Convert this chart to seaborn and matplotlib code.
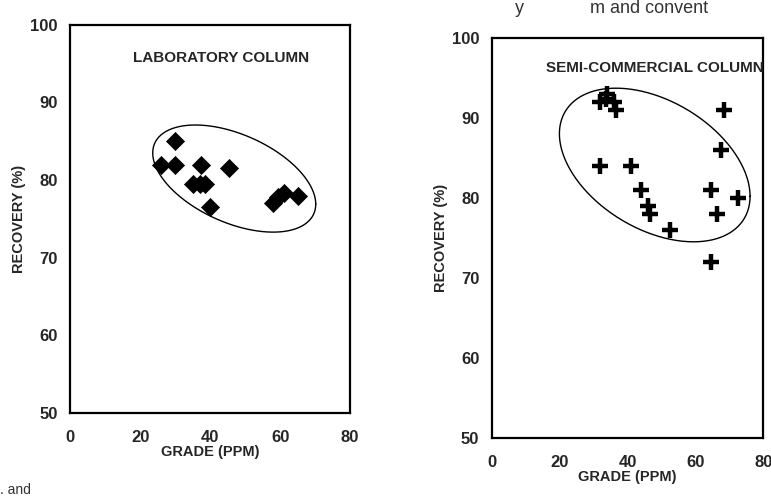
import numpy as np
import pandas as pd
import matplotlib
matplotlib.use("Agg")
import matplotlib.pyplot as plt
import seaborn as sns

# ---- data ----
lab_grade = [26, 30, 30, 35, 37, 37.5, 38.5, 40, 45.5, 58, 59.5, 61, 65]
lab_recovery = [82, 85, 82, 79.5, 79.5, 82, 79.5, 76.5, 81.5, 77, 77.8, 78.3, 78]

semi_grade = [32, 34, 36, 36.5, 33.5, 32, 41, 44, 46, 46.5, 52.5, 68.5, 67.5, 64.5, 72.5, 66.5, 64.5]
semi_recovery = [92, 93, 92, 91, 92.3, 84, 84, 81, 79, 78, 76, 91, 86, 81, 80, 78, 72]

x_ticks = [0, 20, 40, 60, 80]
y_ticks = [50, 60, 70, 80, 90, 100]

panel_titles = ["LABORATORY COLUMN", "SEMI-COMMERCIAL COLUMN"]
x_label = "GRADE (PPM)"
y_label = "RECOVERY (%)"

# ellipse outlines: centre x, centre y, x half extent, y half extent, phase (deg)
lab_ellipse = (46.9, 80.2, 23.3, 6.9, 118.5)
semi_ellipse = (48.0, 84.1, 28.1, 9.6, 114.0)

sns.set_theme(style="white")
plt.rcParams["font.family"] = ["Liberation Sans", "DejaVu Sans"]

fig = plt.figure(figsize=(7.71, 4.97), dpi=100)
ax1 = fig.add_axes([0.091, 0.169, 0.363, 0.781])
ax2 = fig.add_axes([0.638, 0.119, 0.352, 0.805])

lab_df = pd.DataFrame({"grade": lab_grade, "recovery": lab_recovery})
semi_df = pd.DataFrame({"grade": semi_grade, "recovery": semi_recovery})

sns.scatterplot(data=lab_df, x="grade", y="recovery", ax=ax1, marker="D",
                s=85, color="black", edgecolor="black", linewidth=0.5, zorder=3)
sns.scatterplot(data=semi_df, x="grade", y="recovery", ax=ax2, marker="+",
                s=130, color="black", linewidth=3.2, zorder=3)


def draw_ellipse(ax, params):
    cx, cy, hx, hy, phase = params
    t = np.linspace(0, 2 * np.pi, 300)
    ex = cx + hx * np.cos(t)
    ey = cy + hy * np.cos(t + np.deg2rad(phase))
    ax.plot(ex, ey, color="black", lw=1.0, zorder=2)


draw_ellipse(ax1, lab_ellipse)
draw_ellipse(ax2, semi_ellipse)

for ax, title, tx, ty in [(ax1, panel_titles[0], 0.54, 0.915),
                          (ax2, panel_titles[1], 0.6, 0.925)]:
    ax.set_xlim(0, 80)
    ax.set_ylim(50, 100)
    ax.set_xticks(x_ticks)
    ax.set_yticks(y_ticks)
    ax.set_xticklabels([str(v) for v in x_ticks], fontsize=12, fontweight="bold")
    ax.set_yticklabels([str(v) for v in y_ticks], fontsize=12, fontweight="bold")
    ax.tick_params(axis="both", direction="in", length=6, width=1.5, color="black")
    ax.tick_params(axis="x", pad=12)
    ax.tick_params(axis="y", pad=9)
    for sp in ax.spines.values():
        sp.set_visible(True)
        sp.set_color("black")
        sp.set_linewidth(1.6)
    ax.set_xlabel(x_label, fontsize=10.5, fontweight="bold", labelpad=0)
    ax.set_ylabel(y_label, fontsize=10.5, fontweight="bold", labelpad=3)
    ax.text(tx, ty, title, transform=ax.transAxes,
            ha="center", va="center", fontsize=11, fontweight="bold")

# fragments of the scanned page text
fig.text(0.668, 1.0, "y", fontsize=13, color="#333333", va="top")
fig.text(0.765, 1.0, "m and convent", fontsize=13, color="#333333", va="top")
fig.text(0.0, 0.0, ". and", fontsize=10, color="#333333", va="bottom")

fig.savefig("out.png", dpi=100)
